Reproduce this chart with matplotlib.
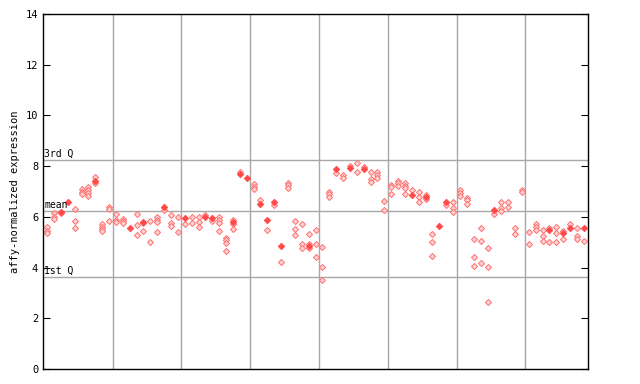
import numpy as np
import matplotlib
matplotlib.use("Agg")
import matplotlib.pyplot as plt

# expression values per sample column (left to right)
values = [
    [5.6, 5.45, 5.35], [6.15, 6.0, 5.9], [6.2, 6.15], [6.6],
    [6.3, 5.84, 5.56], [7.1, 6.98, 6.9], [7.18, 7.06, 6.94, 6.82],
    [7.57, 7.41, 7.33], [5.72, 5.6, 5.52, 5.44], [6.39, 6.31, 5.84],
    [6.1, 5.88, 5.8], [5.9, 5.84, 5.76], [5.56], [6.1, 5.68, 5.28],
    [5.8, 5.76, 5.44], [5.84, 5.0], [6.0, 5.88, 5.8, 5.4], [6.39, 6.27],
    [6.07, 5.76, 5.64], [6.0, 5.4],
    [5.96, 5.72], [6.0, 5.76], [6.0, 5.8, 5.6], [6.07, 6.0], [5.96, 5.84],
    [6.0, 5.88, 5.76, 5.44], [5.17, 5.09, 4.97, 4.65],
    [5.88, 5.8, 5.72, 5.52], [7.77, 7.69], [7.53],
    [7.3, 7.18, 7.1], [6.66, 6.5], [5.88, 5.48], [6.58, 6.47], [4.85, 4.22],
    [7.33, 7.26, 7.14], [5.84, 5.52, 5.28], [5.72, 4.93, 4.77],
    [5.32, 4.93, 4.85, 4.77], [5.48, 4.93, 4.42],
    [4.81, 4.02, 3.51], [6.98, 6.9, 6.78], [7.89, 7.73], [7.65, 7.53],
    [8.0, 7.93], [8.12, 7.77], [7.97, 7.89], [7.77, 7.49, 7.37],
    [7.77, 7.65, 7.53], [6.62, 6.27],
    [7.26, 7.18, 6.9], [7.41, 7.33, 7.22], [7.33, 7.22, 7.14, 6.9],
    [7.06, 6.86], [6.98, 6.78, 6.58], [6.86, 6.78, 6.7], [5.32, 5.0, 4.45],
    [5.64], [6.58, 6.47], [6.58, 6.35, 6.19],
    [7.06, 6.94, 6.82], [6.74, 6.66, 6.5], [5.13, 4.42, 4.06],
    [5.56, 5.05, 4.18], [4.77, 4.02, 2.64], [6.27, 6.11],
    [6.58, 6.35, 6.23], [6.58, 6.39], [5.56, 5.32], [7.06, 6.98],
    [5.4, 4.93], [5.72, 5.6, 5.48], [5.48, 5.24, 5.05], [5.56, 5.48, 5.0],
    [5.6, 5.36, 5.0], [5.44, 5.36, 5.13], [5.72, 5.56], [5.56, 5.24, 5.13],
    [5.56, 5.05],
]
# index of the solid (filled) marker in each column, -1 = none
filled = [
    -1, -1, 0, 0, -1, -1, -1, 1, -1, -1,
    -1, -1, 0, -1, 0, -1, -1, 0, -1, -1,
    0, -1, -1, 1, 0, -1, -1, 1, 1, 0,
    -1, 1, 0, 0, 0, -1, -1, -1, 2, -1,
    -1, -1, 0, -1, 1, -1, 1, -1, -1, -1,
    -1, -1, -1, 1, -1, 1, -1, 0, 0, -1,
    -1, -1, -1, -1, -1, 0, -1, -1, -1, -1,
    -1, -1, -1, 1, -1, 1, 1, -1, 0,
]

q1, q_mean, q3 = 3.63, 6.23, 8.24

mono = "DejaVu Sans Mono"
fig = plt.figure(figsize=(6.4, 3.84), dpi=100)
ax = fig.add_axes([43 / 640, 15 / 384, 545 / 640, 355 / 384])

for x in np.arange(9.5, 78, 10):
    ax.axvline(x, color="#a8a8a8", lw=1, zorder=1)
for q in (q1, q_mean, q3):
    ax.axhline(q, color="#a8a8a8", lw=1, zorder=1)

for i, col in enumerate(values):
    for j, v in enumerate(col):
        if j == filled[i]:
            ax.plot(i, v, marker="D", ms=3.4, mfc="#ff4848", mec="#ff4848",
                    mew=0.5, ls="none", zorder=3)
        else:
            ax.plot(i, v, marker="D", ms=3.1, mfc="#ffd2d2", mec="#ff7070",
                    mew=0.7, ls="none", zorder=2)

ax.text(-0.4, q3 + 0.05, "3rd Q", fontsize=7, family=mono, va="bottom", ha="left")
ax.text(-0.4, q_mean + 0.05, "mean", fontsize=7, family=mono, va="bottom", ha="left")
ax.text(-0.4, q1 + 0.05, "1st Q", fontsize=7, family=mono, va="bottom", ha="left")

ax.set_xlim(-0.6, 78.6)
ax.set_ylim(0, 14)
ax.set_yticks(range(0, 15, 2))
ax.set_xticks([])
ax.tick_params(axis="y", direction="in", length=5, labelsize=7.5,
               right=True, labelfontfamily=mono)
ax.set_ylabel("affy-normalized expression", fontsize=7.5, family=mono)
for s in ax.spines.values():
    s.set_color("black")
    s.set_linewidth(1)

fig.savefig("out.png", dpi=100)
